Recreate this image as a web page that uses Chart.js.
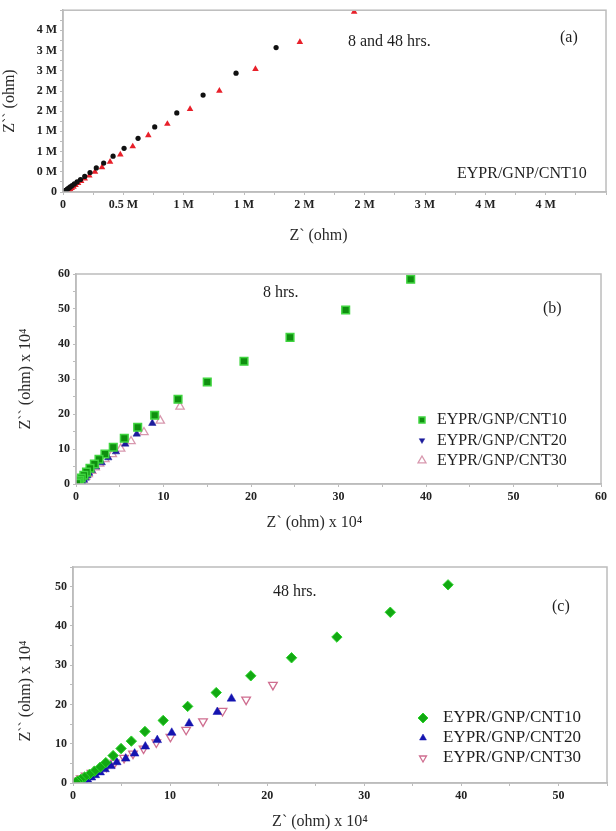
<!DOCTYPE html>
<html>
<head>
<meta charset="utf-8">
<script src="https://cdn.jsdelivr.net/npm/chart.js@4.4.1/dist/chart.umd.min.js"></script>
<style>
  body { margin:0; background:#fff; }
  #wrap { position:relative; width:616px; height:831px; }
  canvas { position:absolute; left:0; }
</style>
</head>
<body>
<div id="wrap">
  <canvas id="chartA" width="616" height="250" style="top:0"></canvas>
  <canvas id="chartB" width="616" height="285" style="top:250px"></canvas>
  <canvas id="chartC" width="616" height="296" style="top:535px"></canvas>
</div>
<script>
// ---- (a) 8 and 48 hrs, CNT10, values in M ohm ----
const aXTicks = ['0','0.5 M','1 M','1 M','2 M','2 M','3 M','4 M','4 M'];
const aYTicks = ['0','0 M','1 M','1 M','2 M','2 M','3 M','3 M','4 M'];
const a8X  = [1.766,1.434,1.161,0.943,0.760,0.622,0.506,0.415,0.337,0.276,0.224,0.180,0.145,0.117,0.094,0.075,0.060,0.047,0.036,0.027,0.019,0.012,0.006];
const a8Y  = [3.575,2.940,2.400,1.957,1.611,1.329,1.080,0.886,0.717,0.597,0.483,0.386,0.310,0.250,0.200,0.160,0.125,0.095,0.070,0.050,0.032,0.018,0.007];
const a48X = [2.413,1.963,1.595,1.296,1.053,0.865,0.707,0.578,0.475,0.390,0.323,0.265,0.218,0.180,0.150,0.125,0.104,0.087,0.072,0.060,0.050,0.042,0.035];
const a48Y = [4.460,3.713,3.043,2.505,2.053,1.684,1.401,1.128,0.925,0.749,0.611,0.500,0.403,0.330,0.270,0.220,0.170,0.130,0.095,0.065,0.040,0.020,0.005];

// ---- (b) 8 hrs, values in 10^4 ohm ----
const bTicks = ['0','10','20','30','40','50','60'];
const b10X = [38.25,30.82,24.46,19.20,15.00,11.66,8.99,7.05,5.52,4.26,3.31,2.63,2.10,1.60,1.20,0.90,0.60,0.40,0.25,0.10];
const b10Y = [58.49,49.71,41.91,35.06,29.14,24.20,19.63,16.20,13.06,10.49,8.57,7.06,5.70,4.50,3.40,2.50,1.70,1.10,0.60,0.20];
const b20X = [8.72,6.94,5.63,4.57,3.69,2.94,2.29,1.80,1.50,1.30,1.10,0.90,0.70,0.50,0.30];
const b20Y = [17.34,14.29,11.43,9.23,7.51,6.09,4.94,3.90,3.10,2.40,1.70,1.10,0.60,0.30,0.10];
const b30X = [11.89,9.63,7.77,6.29,5.11,4.15,3.31,2.70,2.20,1.80,1.40,1.10,0.80,0.60,0.40,0.30];
const b30Y = [22.09,18.09,14.77,12.20,10.09,8.49,7.06,5.80,4.70,3.70,2.80,2.00,1.30,0.70,0.30,0.10];

// ---- (c) 48 hrs, values in 10^4 ohm ----
const cTicks = ['0','10','20','30','40','50'];
const c10X = [38.63,32.68,27.18,22.51,18.31,14.75,11.81,9.29,7.41,6.01,4.95,4.13,3.38,2.80,2.20,1.70,1.20,0.80,0.50,0.30];
const c10Y = [50.46,43.48,37.16,31.89,27.29,23.02,19.51,15.93,13.12,10.66,8.77,6.98,5.19,4.00,3.00,2.20,1.50,0.90,0.50,0.20];
const c20X = [16.32,14.86,11.96,10.17,8.68,7.45,6.35,5.43,4.51,3.90,3.30,2.80,2.30,1.90,1.50,1.20];
const c20Y = [21.48,18.08,15.17,12.79,10.92,9.28,7.49,6.21,5.29,4.30,3.50,2.70,2.00,1.40,0.80,0.30];
const c30X = [20.59,17.83,15.40,13.39,11.65,10.04,8.58,7.27,6.18,5.26,4.30,3.45,2.59,1.90,1.30,0.80,0.40,0.20];
const c30Y = [24.99,21.23,18.34,15.68,13.55,11.76,10.31,8.77,7.49,6.39,5.19,4.17,3.32,2.60,1.90,1.20,0.60,0.20];

const SERIF = '"Liberation Serif", "DejaVu Serif", serif';
const pts = (xs, ys) => xs.map((x, i) => ({ x, y: ys[i] }));

// linear axis with minor ticks in between labelled ones
function axis(o){
  return {
    type:'linear', min:0, max:o.max,
    border:{ display:true, color:'#bcbcbc', width:1.5 },
    grid:{ drawOnChartArea:false, drawTicks:true, tickLength:3, color:'#bcbcbc' },
    ticks:{ stepSize:o.step, autoSkip:false, maxRotation:0, minRotation:0, padding:3, color:'#222',
      font:{ family:SERIF, size:12, weight:'bold' },
      callback:(v, i) => i % 2 === 0 ? (o.labels[i/2] ?? '') : '' },
    title:{ display:true, text:o.title, color:'#2b2b2b',
      font:{ family:SERIF, size:16, lineHeight:o.lh || 1.2 }, padding:o.tpad },
    afterFit: s => { if (s.isHorizontal()) s.height = o.size; else s.width = o.size; }
  };
}

// box around plot, free text notes and a legend inside the plot
const decor = {
  id:'decor',
  afterDraw(chart, args, o){
    const { ctx, chartArea:a } = chart;
    ctx.save();
    ctx.strokeStyle = '#bcbcbc'; ctx.lineWidth = 1.5;
    ctx.strokeRect(a.left, a.top, a.right - a.left, a.bottom - a.top);
    ctx.textBaseline = 'middle'; ctx.textAlign = 'left';
    (o.notes || []).forEach(n => {
      ctx.fillStyle = '#1e1e1e';
      ctx.font = n.size + 'px ' + SERIF;
      ctx.fillText(n.text, n.x, n.y);
    });
    if (o.legend) {
      const L = o.legend;
      chart.data.datasets.forEach((ds, i) => {
        const y = L.y + i * L.gap;
        ctx.fillStyle = ds.backgroundColor; ctx.strokeStyle = ds.borderColor; ctx.lineWidth = ds.borderWidth;
        Chart.helpers.drawPoint(ctx, { pointStyle:ds.pointStyle, rotation:L.rot[i], radius:L.r[i], borderWidth:ds.borderWidth }, L.x, y);
        ctx.fillStyle = '#1e1e1e';
        ctx.font = L.size + 'px ' + SERIF;
        ctx.fillText(ds.label, L.tx, y);
      });
    }
    ctx.restore();
  }
};

const base = (pad, decorOpts) => ({
  responsive:false, animation:false,
  layout:{ padding:pad },
  plugins:{ legend:{ display:false }, tooltip:{ enabled:false }, decor:decorOpts }
});

// (a)
new Chart(document.getElementById('chartA'), {
  type:'scatter',
  data:{ datasets:[
    { label:'8 hrs', data:pts(a8X, a8Y), pointStyle:'circle', pointRadius:2.6, backgroundColor:'#111', borderColor:'#111', borderWidth:0 },
    { label:'48 hrs', data:pts(a48X, a48Y), pointStyle:'triangle', pointRadius:3.8, backgroundColor:'#e8202a', borderColor:'#e8202a', borderWidth:0 }
  ]},
  options:Object.assign(base({ top:6, right:10, left:0, bottom:0 }, {
    notes:[
      { text:'8 and 48 hrs.', x:348, y:42, size:16 },
      { text:'(a)', x:560, y:38, size:16 },
      { text:'EYPR/GNP/CNT10', x:457, y:174, size:16 }
    ]
  }), {
    scales:{
      x:axis({ max:4.5, step:0.25, labels:aXTicks, title:'Z` (ohm)\u2003\u2003', size:58, tpad:{ top:0, bottom:5 } }),
      y:axis({ max:4.5, step:0.25, labels:aYTicks, title:'Z`` (ohm)', size:63, tpad:{ top:0, bottom:0 } })
    }
  }),
  plugins:[decor]
});

// (b)
new Chart(document.getElementById('chartB'), {
  type:'scatter',
  data:{ datasets:[
    { label:'EYPR/GNP/CNT10', data:pts(b10X, b10Y), pointStyle:'rect', pointRadius:5.4, backgroundColor:'#0f8f0f', borderColor:'#3fd43f', borderWidth:1.5 },
    { label:'EYPR/GNP/CNT20', data:pts(b20X, b20Y), pointStyle:'triangle', pointRadius:4.3, backgroundColor:'#1c1c9c', borderColor:'#1c1c9c', borderWidth:0.5 },
    { label:'EYPR/GNP/CNT30', data:pts(b30X, b30Y), pointStyle:'triangle', pointRadius:4.8, backgroundColor:'#ffffff', borderColor:'#d898ae', borderWidth:1.3 }
  ]},
  options:Object.assign(base({ top:24, right:15, left:0, bottom:0 }, {
    notes:[
      { text:'8 hrs.', x:263, y:43, size:16 },
      { text:'(b)', x:543, y:59, size:16 }
    ],
    legend:{ x:422, tx:437, y:170, gap:20.3, size:16, r:[4.2, 3.2, 4.6], rot:[0, 180, 0] }
  }), {
    scales:{
      x:axis({ max:60, step:5, labels:bTicks, title:'Z` (ohm) x 10\u2074\u2003\u2003\u2003', size:51, tpad:{ top:0, bottom:3 } }),
      y:axis({ max:60, step:5, labels:bTicks, title:'Z`` (ohm) x 10\u2074', size:76, tpad:{ top:16, bottom:0 } })
    }
  }),
  plugins:[decor]
});

// (c)
new Chart(document.getElementById('chartC'), {
  type:'scatter',
  data:{ datasets:[
    { label:'EYPR/GNP/CNT10', data:pts(c10X, c10Y), pointStyle:'rectRot', pointRadius:5.2, backgroundColor:'#12a812', borderColor:'#2ad42a', borderWidth:1 },
    { label:'EYPR/GNP/CNT20', data:pts(c20X, c20Y), pointStyle:'triangle', pointRadius:5, backgroundColor:'#1414b0', borderColor:'#1414b0', borderWidth:0.5 },
    { label:'EYPR/GNP/CNT30', data:pts(c30X, c30Y), pointStyle:'triangle', pointRotation:180, pointRadius:5, backgroundColor:'#ffffff', borderColor:'#cf6e90', borderWidth:1.3 }
  ]},
  options:Object.assign(base({ top:32, right:9, left:0, bottom:0 }, {
    notes:[
      { text:'48 hrs.', x:273, y:57, size:16 },
      { text:'(c)', x:552, y:72, size:16 }
    ],
    legend:{ x:423, tx:443, y:183, gap:20, size:17, r:[5, 4, 4], rot:[0, 0, 180] }
  }), {
    scales:{
      x:axis({ max:55, step:5, labels:cTicks, title:'Z` (ohm) x 10\u2074\u2003\u2003\u2002', size:48, lh:1, tpad:{ top:0, bottom:1 } }),
      y:axis({ max:55, step:5, labels:cTicks, title:'Z`` (ohm) x 10\u2074\u2003\u2003', size:73, tpad:{ top:16, bottom:0 } })
    }
  }),
  plugins:[decor]
});
</script>
</body>
</html>
